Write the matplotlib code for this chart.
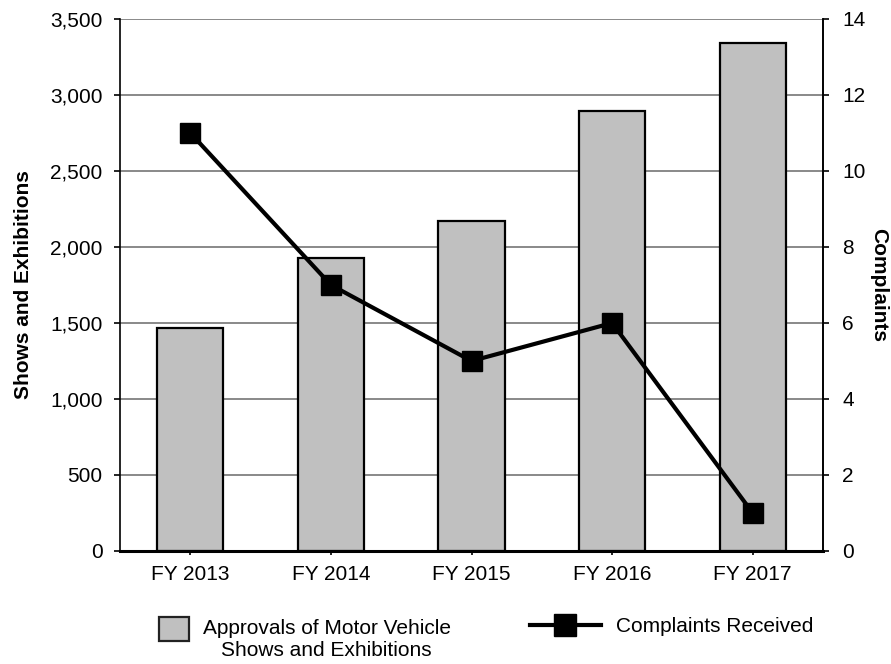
import matplotlib as mpl
mpl.use('Agg')
import matplotlib.pyplot as plt
from matplotlib.patches import Patch, Rectangle
from matplotlib.lines import Line2D
from matplotlib.legend_handler import HandlerPatch

plt.rcParams['font.family'] = ['Liberation Sans', 'DejaVu Sans']

years = ['FY 2013', 'FY 2014', 'FY 2015', 'FY 2016', 'FY 2017']
approvals = [1467, 1928, 2171, 2895, 3342]
complaints = [11, 7, 5, 6, 1]

FS = 15

fig = plt.figure(figsize=(8.91, 6.64), dpi=100)
ax = fig.add_axes([0.1347, 0.1702, 0.789, 0.8012])

x = list(range(len(years)))
ax.bar(x, approvals, width=0.47, color='#c0c0c0', edgecolor='black', linewidth=1.6, zorder=2)
ax.set_ylim(0, 3500)
ax.set_xlim(-0.5, 4.5)
ax.set_yticks(range(0, 3501, 500))
ax.set_yticklabels(['{:,}'.format(v) for v in range(0, 3501, 500)])
ax.yaxis.grid(True, color='#808080', linewidth=1.3, zorder=0)
ax.set_axisbelow(True)
ax.set_xticks(x)
ax.set_xticklabels(years)
ax.tick_params(axis='y', labelsize=FS, direction='out', length=4.5, width=1.2, pad=8)
ax.tick_params(axis='x', labelsize=FS, direction='out', length=3, width=1.2, pad=7)
ax.set_ylabel('Shows and Exhibitions', fontsize=15, fontweight='bold', labelpad=12)
ax.spines['top'].set_visible(False)
ax.spines['left'].set_linewidth(1.2)
ax.spines['right'].set_linewidth(1.2)
ax.spines['bottom'].set_linewidth(2.2)

ax2 = ax.twinx()
ax2.plot(x, complaints, color='black', linewidth=3, marker='s', markersize=15, zorder=5)
ax2.set_ylim(0, 14)
ax2.set_yticks(range(0, 15, 2))
ax2.tick_params(axis='y', labelsize=FS, direction='out', length=4, width=1.2, pad=10)
ax2.set_ylabel('Complaints', fontsize=15, fontweight='bold', rotation=-90, labelpad=16)
ax2.spines['top'].set_visible(False)
ax2.spines['left'].set_visible(False)
ax2.spines['bottom'].set_visible(False)
ax2.spines['right'].set_linewidth(1.2)


def raised_box(legend, orig_handle, xdescent, ydescent, width, height, fontsize):
    # lift the box so it sits beside the first line of the two-line label
    return Rectangle((-xdescent, -ydescent + 0.55 * fontsize), width, height)


bar_handle = Patch(facecolor='#c0c0c0', edgecolor='#222222', linewidth=1.6)
line_handle = Line2D([], [], color='black', linewidth=3, marker='s', markersize=16)

leg1 = fig.legend([bar_handle], ['Approvals of Motor Vehicle\nShows and Exhibitions'],
                  loc='center', bbox_to_anchor=(0.342, 0.037), frameon=False,
                  fontsize=FS, handlelength=1.45, handleheight=1.4, handletextpad=0.65,
                  handler_map={Patch: HandlerPatch(patch_func=raised_box)})
for t in leg1.get_texts():
    t.set_multialignment('center')
leg2 = fig.legend([line_handle], ['Complaints Received'],
                  loc='center', bbox_to_anchor=(0.754, 0.056), frameon=False,
                  fontsize=FS, handlelength=3.4, handletextpad=0.75)

fig.savefig('out.png', dpi=100)
